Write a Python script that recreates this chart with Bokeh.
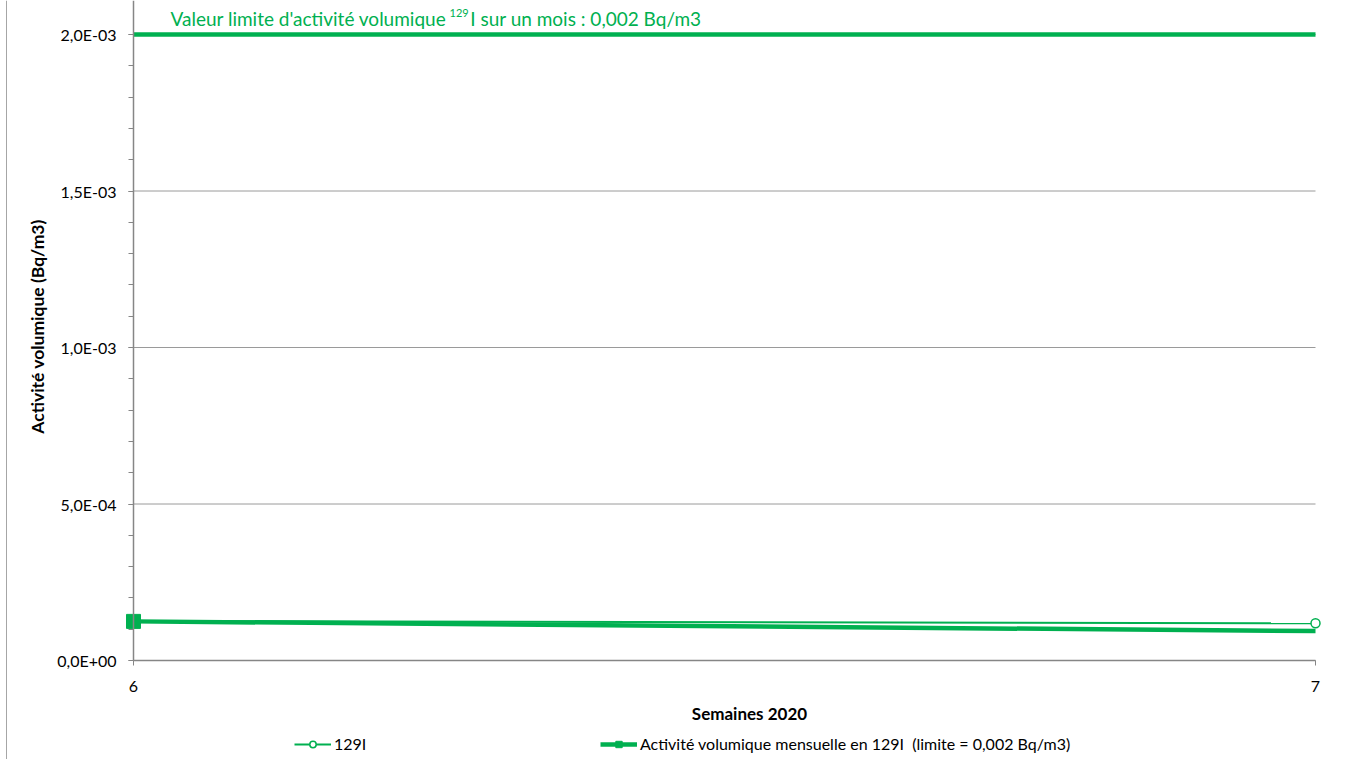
import math
from bokeh.plotting import figure
from bokeh.models import FixedTicker, Label, Legend, LegendItem, CustomJSTickFormatter, Span
from bokeh.embed import file_html
from bokeh.resources import INLINE

# ---- data ----
semaines = [6, 7]
i129 = [1.26e-4, 1.19e-4]
mensuel = [1.25e-4, 9.4e-5]
limite = [2.0e-3, 2.0e-3]
y_ticks = [0.0, 5e-4, 1e-3, 1.5e-3, 2e-3]
y_tick_labels = ["0,0E+00", "5,0E-04", "1,0E-03", "1,5E-03", "2,0E-03"]
y_minor = [k * 1e-4 for k in range(21)]
x_ticks = [6, 7]
x_tick_labels = ["6", "7"]

FONT = "Lato"
GREEN = "#00B050"
AXIS = "#868686"

W, H = 1342, 759
# frame covers the whole canvas: week 6 at px 133, week 7 at px 1315,
# 0 at px 660 from top, 2e-3 at px 34 from top
xpx = 1182.0
ypx = 626.0 / 2e-3
x0 = 6 - 133 / xpx
x1 = 7 + (W - 1315) / xpx
y0 = -(H - 660) / ypx
y1 = 660 / ypx

p = figure(width=W, height=H, x_range=(x0, x1), y_range=(y0, y1),
           output_backend="svg", toolbar_location=None,
           min_border_left=0, min_border_right=0, min_border_top=0, min_border_bottom=0)
p.outline_line_color = None
p.background_fill_color = "white"
p.xgrid.visible = False
p.ygrid.visible = False

fmt_code = """
let best = 0, d = Infinity;
for (let i = 0; i < tk.length; i++) { const e = Math.abs(tk[i] - tick); if (e < d) { d = e; best = i } }
return lb[best];
"""
p.yaxis.ticker = FixedTicker(ticks=y_ticks, minor_ticks=y_minor)
p.yaxis.formatter = CustomJSTickFormatter(args=dict(tk=y_ticks, lb=y_tick_labels), code=fmt_code)
p.xaxis.ticker = FixedTicker(ticks=x_ticks, minor_ticks=[])
p.xaxis.formatter = CustomJSTickFormatter(args=dict(tk=x_ticks, lb=x_tick_labels), code=fmt_code)
p.yaxis.fixed_location = semaines[0]
p.yaxis.bounds = (0, y1)
p.xaxis.fixed_location = 0
p.xaxis.bounds = (semaines[0], semaines[-1])

for ax in (p.xaxis[0], p.yaxis[0]):
    ax.axis_line_color = AXIS
    ax.axis_line_width = 1.5
    ax.major_tick_line_color = AXIS
    ax.minor_tick_line_color = AXIS
    ax.major_tick_out = 5
    ax.major_tick_in = 0
    ax.minor_tick_out = 5
    ax.minor_tick_in = 0
    ax.major_label_text_font = FONT
    ax.major_label_text_font_size = "16px"
    ax.major_label_text_color = "black"
p.yaxis.major_label_standoff = 12
p.xaxis.major_label_standoff = 15

# horizontal gridlines (from the y ticks, between first and last week)
p.segment(x0=[semaines[0]] * len(y_ticks), x1=[semaines[-1]] * len(y_ticks),
          y0=y_ticks, y1=y_ticks, line_color="#9a9a9a", line_width=1)

# outer chart border on the left
p.add_layout(Span(location=6, location_units="screen", dimension="height",
                  line_color="#a6a6a6", line_width=1))

# axis titles
p.add_layout(Label(x=37, y=H - 326, x_units="screen", y_units="screen",
                   text="Activité volumique (Bq/m3)", angle=math.pi / 2,
                   text_align="center", text_baseline="middle",
                   text_font=FONT, text_font_size="17.5px", text_font_style="bold",
                   text_color="black"))
p.add_layout(Label(x=749, y=H - 713, x_units="screen", y_units="screen",
                   text="Semaines 2020", text_align="center", text_baseline="middle",
                   text_font=FONT, text_font_size="17px", text_font_style="bold",
                   text_color="black"))

# limit line
p.line(semaines, limite, line_width=4.5, color=GREEN)

# series
r_thick = p.line(semaines, mensuel, line_width=4.5, color=GREEN)
r_thin = p.line(semaines, i129, line_width=2, color=GREEN)
r_circ = p.scatter(semaines, i129, marker="circle", size=9, fill_color="white",
                   line_color=GREEN, line_width=1.5)
r_sq = p.scatter(semaines[:1], mensuel[:1], marker="square", size=14, color=GREEN)

# limit text (with superscript)
p.add_layout(Label(x=170, y=H - 18, x_units="screen", y_units="screen",
                   text="Valeur limite d'activité volumique", text_align="left",
                   text_baseline="middle", text_font=FONT, text_font_size="19px",
                   text_color=GREEN))
p.add_layout(Label(x=449, y=H - 12, x_units="screen", y_units="screen",
                   text="129", text_align="left",
                   text_baseline="middle", text_font=FONT, text_font_size="11px",
                   text_color=GREEN))
p.add_layout(Label(x=701, y=H - 18, x_units="screen", y_units="screen",
                   text="I sur un mois : 0,002 Bq/m3", text_align="right",
                   text_baseline="middle", text_font=FONT, text_font_size="19px",
                   text_color=GREEN))

def make_legend(label, renderers, x):
    return Legend(items=[LegendItem(label=label, renderers=renderers)],
                  location=(x, H - 753), orientation="horizontal",
                  border_line_color=None, background_fill_alpha=0,
                  padding=0, margin=0, spacing=0,
                  glyph_width=37, glyph_height=16, label_height=16, label_standoff=3,
                  label_text_font=FONT, label_text_font_size="16px",
                  label_text_color="black")

p.add_layout(make_legend("129I", [r_thin, r_circ], 294))
p.add_layout(make_legend("Activité volumique mensuelle en 129I  (limite = 0,002 Bq/m3)",
                         [r_thick, r_sq], 600))

open("out.html", "w").write(file_html(p, INLINE))
